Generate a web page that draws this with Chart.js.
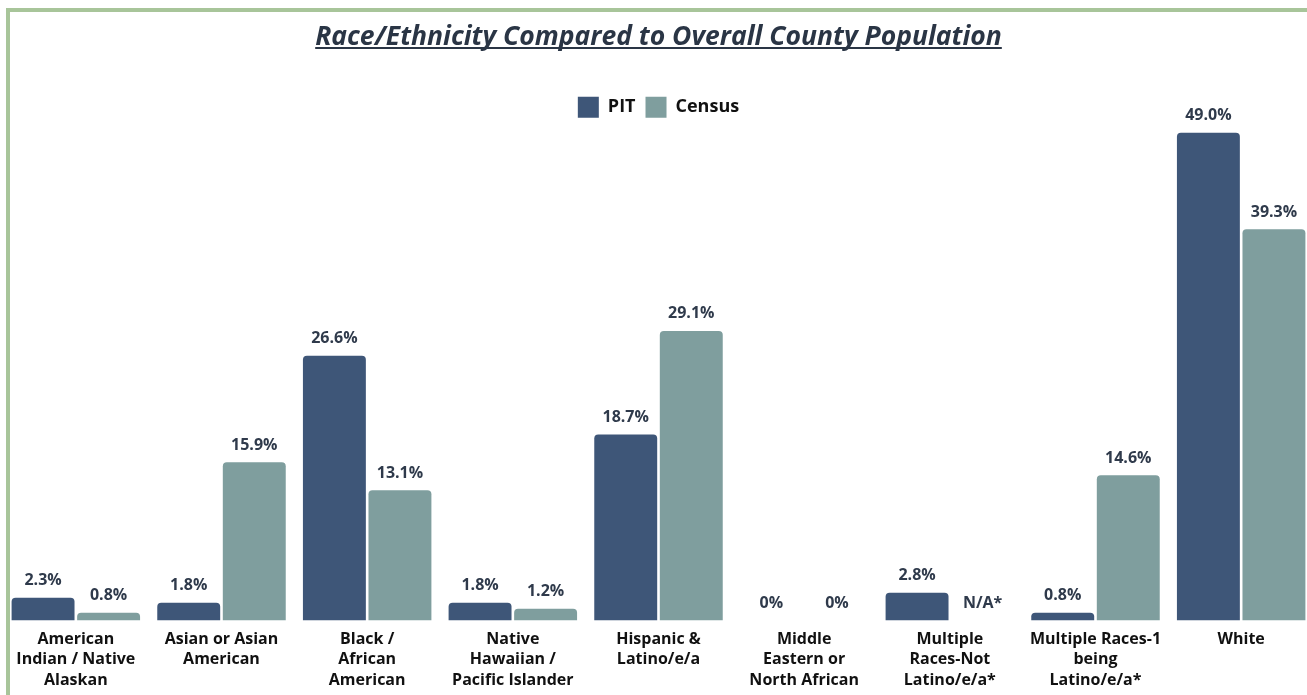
<!DOCTYPE html>
<html>
<head>
<meta charset="utf-8">
<script src="https://cdn.jsdelivr.net/npm/chart.js@4.4.1/dist/chart.umd.min.js"></script>
<style>
  html, body { margin: 0; padding: 0; background: #fff; overflow: hidden; width: 1307px; height: 695px; }
  .frame { position: absolute; left: 6px; top: 8px; width: 1400px; height: 800px; border: 4px solid #a8c59a; box-sizing: border-box; }
  .wrap { position: absolute; left: 3px; top: 0; width: 1311px; height: 703px; }
</style>
</head>
<body>
<div class="frame"></div>
<div class="wrap"><canvas id="chart"></canvas></div>
<script>
const categories = [
    ['American', 'Indian / Native', 'Alaskan'],
    ['Asian or Asian', 'American'],
    ['Black /', 'African', 'American'],
    ['Native', 'Hawaiian /', 'Pacific Islander'],
    ['Hispanic &', 'Latino/e/a'],
    ['Middle', 'Eastern or', 'North African'],
    ['Multiple', 'Races-Not', 'Latino/e/a*'],
    ['Multiple Races-1', 'being', 'Latino/e/a*'],
    ['White']
];
const pitValues = [2.3, 1.8, 26.6, 1.8, 18.7, 0, 2.8, 0.8, 49.0];
const censusValues = [0.8, 15.9, 13.1, 1.2, 29.1, 0, null, 14.6, 39.3];

const FONT = "'Open Sans', 'Noto Sans', sans-serif";

// value labels above each bar
const barLabels = {
    id: 'barLabels',
    afterDatasetsDraw(chart) {
        const ctx = chart.ctx;
        const yScale = chart.scales.y;
        ctx.save();
        ctx.font = 'bold 16px ' + FONT;
        ctx.fillStyle = '#2f3a4b';
        ctx.textAlign = 'center';
        ctx.textBaseline = 'middle';
        chart.data.datasets.forEach((ds, di) => {
            const meta = chart.getDatasetMeta(di);
            meta.data.forEach((bar, i) => {
                const v = ds.data[i];
                let text, top;
                if (v === null) {
                    text = 'N/A*';
                    top = yScale.getPixelForValue(0);
                } else {
                    text = v === 0 ? '0%' : v.toFixed(1) + '%';
                    top = bar.y;
                }
                ctx.fillText(text, bar.x, top - 17);
            });
        });
        ctx.restore();
    }
};

// underline for the title
const titleUnderline = {
    id: 'titleUnderline',
    afterDraw(chart) {
        const ctx = chart.ctx;
        const text = chart.options.plugins.title.text;
        ctx.save();
        ctx.font = 'italic bold 26.5px ' + FONT;
        const w = ctx.measureText(text).width;
        const cx = (chart.chartArea.left + chart.chartArea.right) / 2;
        ctx.fillStyle = '#2a3545';
        ctx.fillRect(cx - w / 2, 47, w, 2);
        ctx.restore();
    }
};

new Chart(document.getElementById('chart'), {
    type: 'bar',
    data: {
        labels: categories,
        datasets: [{
            label: 'PIT',
            data: pitValues,
            backgroundColor: '#3e5678',
            borderRadius: 4,
            categoryPercentage: 0.9,
            barPercentage: 0.96
        }, {
            label: 'Census',
            data: censusValues,
            backgroundColor: '#7f9e9e',
            borderRadius: 4,
            categoryPercentage: 0.9,
            barPercentage: 0.96
        }]
    },
    options: {
        responsive: true,
        maintainAspectRatio: false,
        animation: false,
        layout: { padding: { top: 0, bottom: 4, left: 0, right: 0 } },
        plugins: {
            title: {
                display: true,
                text: 'Race/Ethnicity Compared to Overall County Population',
                color: '#2a3545',
                font: { family: FONT, size: 26.5, weight: 'bold', style: 'italic' },
                padding: { top: 22, bottom: 33 }
            },
            legend: {
                display: true,
                labels: {
                    boxWidth: 21,
                    boxHeight: 21,
                    padding: 10,
                    color: '#111',
                    font: { family: FONT, size: 18, weight: 'bold' }
                }
            },
            tooltip: { enabled: false }
        },
        scales: {
            x: {
                grid: { display: false, drawTicks: false },
                border: { display: false },
                ticks: {
                    color: '#111',
                    padding: 8,
                    maxRotation: 0,
                    autoSkip: false,
                    font: { family: FONT, size: 16, weight: 'bold', lineHeight: 1.3 }
                }
            },
            y: {
                display: false,
                min: 0,
                max: 49.5
            }
        }
    },
    plugins: [barLabels, titleUnderline]
});
</script>
</body>
</html>
